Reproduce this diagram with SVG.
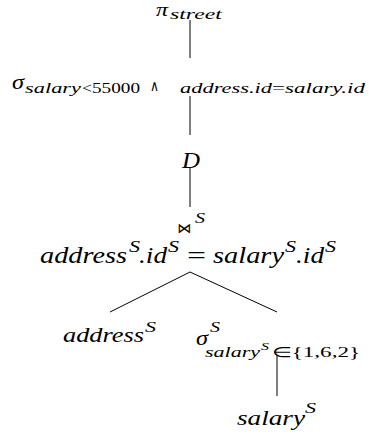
<svg xmlns="http://www.w3.org/2000/svg" width="369" height="434" viewBox="0 0 369 434">
<style>
.i{font-family:"Liberation Serif",serif;font-style:italic;fill:#000}
.u{font-family:"Liberation Serif",serif;fill:#000}
.s{font-family:"DejaVu Sans",sans-serif;fill:#000}
.e{stroke:#000;stroke-width:1;fill:none}
</style>
<rect width="369" height="434" fill="#fff"/>
<g id="connectors">
<line class="e" x1="190" y1="20" x2="190" y2="58"/>
<line class="e" x1="190" y1="96" x2="190" y2="135"/>
<line class="e" x1="190" y1="168" x2="190" y2="207"/>
<line class="e" x1="190" y1="272" x2="110" y2="312"/>
<line class="e" x1="190" y1="272" x2="277" y2="312"/>
<line class="e" x1="277" y1="355" x2="277" y2="396"/>
</g>
<g id="pi">
<text class="i" x="156" y="16" font-size="18" textLength="12" lengthAdjust="spacingAndGlyphs">π</text>
<text class="i" x="170" y="19" font-size="14" textLength="52" lengthAdjust="spacingAndGlyphs">street</text>
</g>
<g id="sigma1">
<text class="i" x="12" y="89" font-size="21" textLength="12" lengthAdjust="spacingAndGlyphs">σ</text>
<text class="i" x="25" y="93" font-size="14" textLength="56" lengthAdjust="spacingAndGlyphs">salary</text>
<text class="u" x="82" y="93" font-size="14" textLength="10" lengthAdjust="spacingAndGlyphs">&lt;</text>
<text class="u" x="92" y="93" font-size="14" textLength="48" lengthAdjust="spacingAndGlyphs">55000</text>
<text class="s" x="150" y="91" font-size="15" textLength="9" lengthAdjust="spacingAndGlyphs">∧</text>
<text class="i" x="180" y="93" font-size="14" textLength="92" lengthAdjust="spacingAndGlyphs">address.id</text>
<text class="u" x="272" y="93" font-size="14" textLength="13" lengthAdjust="spacingAndGlyphs">=</text>
<text class="i" x="285" y="93" font-size="14" textLength="80" lengthAdjust="spacingAndGlyphs">salary.id</text>
</g>
<g id="D">
<text class="i" x="182" y="168" font-size="24" textLength="18" lengthAdjust="spacingAndGlyphs">D</text>
</g>
<g id="join">
<text class="s" x="177" y="233" font-size="14" fill="#000">⋈</text>
<text class="i" x="195" y="223" font-size="14" textLength="10" lengthAdjust="spacingAndGlyphs">S</text>
<text class="i" x="40" y="263" font-size="24" textLength="87" lengthAdjust="spacingAndGlyphs">address</text>
<text class="i" x="129" y="252" font-size="16" textLength="11" lengthAdjust="spacingAndGlyphs">S</text>
<text class="i" x="139" y="263" font-size="24" textLength="28" lengthAdjust="spacingAndGlyphs">.id</text>
<text class="i" x="168" y="252" font-size="16" textLength="11" lengthAdjust="spacingAndGlyphs">S</text>
<text class="u" x="187" y="263" font-size="24" textLength="19" lengthAdjust="spacingAndGlyphs">=</text>
<text class="i" x="213" y="263" font-size="24" textLength="71" lengthAdjust="spacingAndGlyphs">salary</text>
<text class="i" x="285" y="252" font-size="16" textLength="11" lengthAdjust="spacingAndGlyphs">S</text>
<text class="i" x="296" y="263" font-size="24" textLength="28" lengthAdjust="spacingAndGlyphs">.id</text>
<text class="i" x="325" y="252" font-size="16" textLength="11" lengthAdjust="spacingAndGlyphs">S</text>
</g>
<g id="address">
<text class="i" x="63" y="342" font-size="22" textLength="81" lengthAdjust="spacingAndGlyphs">address</text>
<text class="i" x="145" y="332" font-size="15" textLength="11" lengthAdjust="spacingAndGlyphs">S</text>
</g>
<g id="sigma2">
<text class="i" x="196" y="345" font-size="21" textLength="12" lengthAdjust="spacingAndGlyphs">σ</text>
<text class="i" x="210" y="332" font-size="14" textLength="10" lengthAdjust="spacingAndGlyphs">S</text>
<text class="i" x="205" y="357" font-size="14" textLength="55" lengthAdjust="spacingAndGlyphs">salary</text>
<text class="i" x="261" y="350" font-size="11" textLength="8" lengthAdjust="spacingAndGlyphs">S</text>
<text class="u" x="272" y="357" font-size="14" textLength="88" lengthAdjust="spacingAndGlyphs">∈{1,6,2}</text>
</g>
<g id="salary">
<text class="i" x="237" y="425" font-size="22" textLength="68" lengthAdjust="spacingAndGlyphs">salary</text>
<text class="i" x="305" y="413" font-size="15" textLength="11" lengthAdjust="spacingAndGlyphs">S</text>
</g>
</svg>
